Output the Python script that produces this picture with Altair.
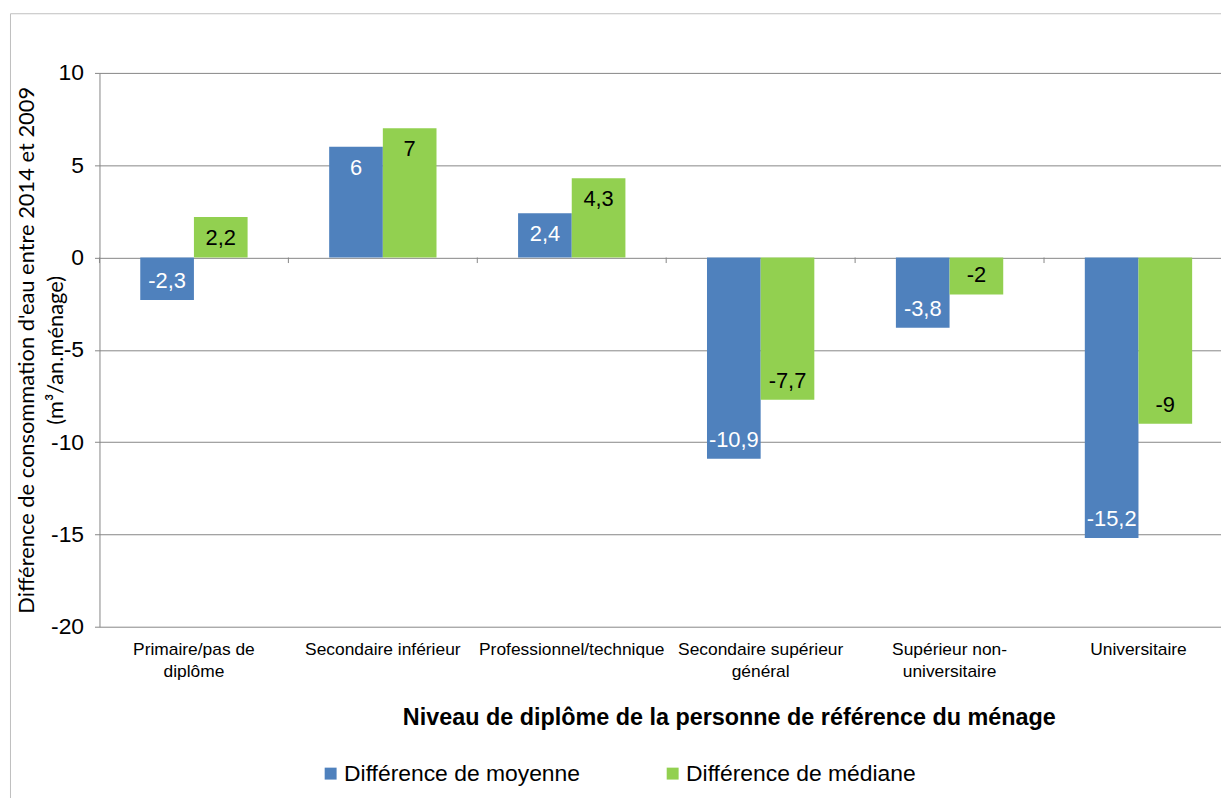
import altair as alt
import pandas as pd

categories = [
    "Primaire/pas de\ndiplôme",
    "Secondaire inférieur",
    "Professionnel/technique",
    "Secondaire supérieur\ngénéral",
    "Supérieur non-\nuniversitaire",
    "Universitaire",
]
series_names = ["Différence de moyenne", "Différence de médiane"]
moyenne = [-2.3, 6, 2.4, -10.9, -3.8, -15.2]
mediane = [2.2, 7, 4.3, -7.7, -2, -9]
colors = ["#4F81BD", "#92D050"]
y_ticks = [-20, -15, -10, -5, 0, 5, 10]


def fr(v):
    return ("%g" % v).replace(".", ",")


rows = []
for c, a, b in zip(categories, moyenne, mediane):
    rows.append({"cat": c, "series": series_names[0], "value": a, "label": fr(a)})
    rows.append({"cat": c, "series": series_names[1], "value": b, "label": fr(b)})
df = pd.DataFrame(rows)
cats_df = pd.DataFrame({"cat": categories})

FONT = "Liberation Sans"
W, H = 1128, 557
X_RANGE = [0, 1140]  # the original plot area runs slightly past the picture's right edge

x_scale = alt.Scale(paddingInner=0, paddingOuter=0, range=X_RANGE)

x_enc = alt.X(
    "cat:N",
    sort=categories,
    scale=x_scale,
    axis=alt.Axis(
        title="Niveau de diplôme de la personne de référence du ménage",
        titleFont=FONT,
        titleFontSize=23.5,
        titleFontWeight="bold",
        titleColor="#000000",
        titleX=633,
        titleY=91,
        titleBaseline="middle",
        titleAlign="center",
        labelExpr="split(datum.value, '\\n')",
        labelFont=FONT,
        labelFontSize=17.5,
        labelColor="#000000",
        labelLineHeight=22,
        labelPadding=14,
        labelAngle=0,
        labelLimit=400,
        domain=False,
        ticks=False,
        grid=False,
    ),
)

y_scale = alt.Scale(domain=[-20, 10], nice=False, zero=False)
y_enc = alt.Y(
    "value:Q",
    scale=y_scale,
    axis=alt.Axis(
        values=y_ticks,
        labelExpr="'' + datum.value",
        title=["Différence de consommation d'eau entre 2014 et 2009", "(m³/an.ménage)"],
        titleFont="Lato",
        titleFontSize=22,
        titleFontWeight="normal",
        titleColor="#000000",
        titleAngle=270,
        titleX=-83,
        titleY=H / 2,
        titleBaseline="top",
        titleAlign="center",
        titleLineHeight=29,
        labelFont=FONT,
        labelFontSize=23,
        labelColor="#000000",
        labelPadding=11,
        tickSize=5,
        tickColor="#868686",
        domainColor="#868686",
        gridColor="#868686",
        grid=True,
    ),
)

base = alt.Chart(df)

bars = base.mark_bar().encode(
    x=x_enc,
    xOffset=alt.XOffset(
        "series:N",
        sort=series_names,
        scale=alt.Scale(paddingInner=0, paddingOuter=0.76),
    ),
    y=y_enc,
    color=alt.Color(
        "series:N",
        sort=series_names,
        scale=alt.Scale(domain=series_names, range=colors),
        legend=alt.Legend(
            title=None,
            orient="none",
            legendX=221,
            legendY=693,
            direction="horizontal",
            symbolType="square",
            symbolSize=144,
            symbolStrokeWidth=0,
            symbolOpacity=1,
            labelFont=FONT,
            labelFontSize=23,
            labelColor="#000000",
            labelOffset=2,
            labelLimit=500,
            columnPadding=81,
        ),
    ),
)

text_color = alt.condition(
    alt.datum.series == series_names[0], alt.value("#FFFFFF"), alt.value("#000000")
)

labels_pos = (
    base.transform_filter(alt.datum.value >= 0)
    .mark_text(font=FONT, fontSize=22, baseline="middle", dy=21)
    .encode(
        x=alt.X("cat:N", sort=categories),
        xOffset=alt.XOffset("series:N", sort=series_names),
        y=alt.Y("value:Q", scale=y_scale),
        text="label:N",
        color=text_color,
    )
)
labels_neg = (
    base.transform_filter(alt.datum.value < 0)
    .mark_text(font=FONT, fontSize=22, baseline="middle", dy=-19)
    .encode(
        x=alt.X("cat:N", sort=categories),
        xOffset=alt.XOffset("series:N", sort=series_names),
        y=alt.Y("value:Q", scale=y_scale),
        text="label:N",
        color=text_color,
    )
)

ticks0 = (
    alt.Chart(cats_df)
    .mark_rule(color="#868686", strokeWidth=1)
    .encode(
        x=alt.X("cat:N", sort=categories, bandPosition=0),
        y=alt.datum(0),
        y2=alt.datum(-0.3),
    )
)

frame_data = alt.Data(values=[{"k": 1}])
frame_left = alt.Chart(frame_data).mark_rule(color="#BFBFBF", strokeWidth=1).encode(
    x=alt.value(-89.5), y=alt.value(-59.5), y2=alt.value(740)
)
frame_top = alt.Chart(frame_data).mark_rule(color="#BFBFBF", strokeWidth=1).encode(
    y=alt.value(-59.5), x=alt.value(-89.5), x2=alt.value(W + 10)
)

chart = (
    alt.layer(frame_left, frame_top, bars, ticks0, labels_pos, labels_neg)
    .properties(
        width=W,
        height=H,
        autosize=alt.AutoSizeParams(type="none"),
        padding={"left": 92, "top": 63, "right": 0, "bottom": 170},
        background="#FFFFFF",
    )
    .configure_view(stroke=None)
)

chart.save("out.html", embed_options={"renderer": "svg", "actions": False})
